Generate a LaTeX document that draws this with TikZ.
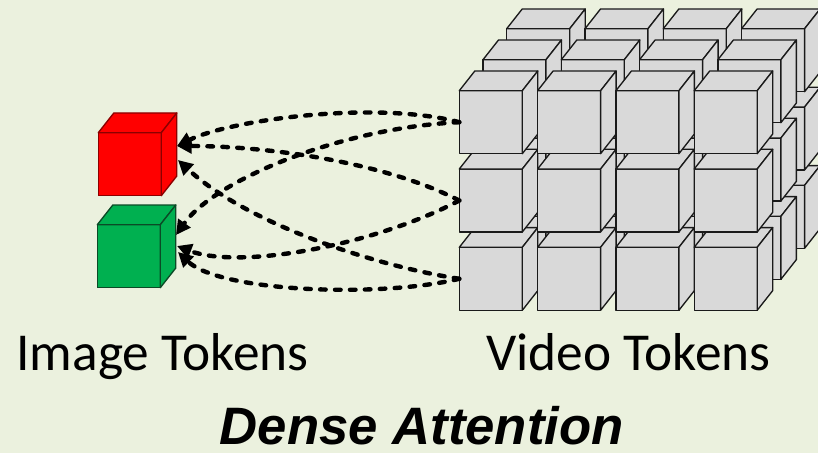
\documentclass[tikz,border=0pt]{standalone}
\usepackage{fontspec}
\setmainfont{Carlito}
\newfontfamily\titlefont{Liberation Sans}
\usetikzlibrary{arrows.meta}

\definecolor{bgolive}{HTML}{EBF1DE}
\definecolor{tokgray}{HTML}{D9D9D9}
\definecolor{tokgrayline}{HTML}{1A1A1A}
\definecolor{tokred}{HTML}{FF0000}
\definecolor{tokredline}{HTML}{8B0000}
\definecolor{tokgreen}{HTML}{00B050}
\definecolor{tokgreenline}{HTML}{0B4A26}

\tikzset{
  cubefront/.style={rectangle, minimum size=47.25pt, inner sep=0pt, outer sep=0pt,
    line width=1pt, line join=round},
  cubeside/.style={line width=1pt, line join=round},
  attn/.style={line width=3.3pt, dash pattern=on 4.2pt off 7pt, line cap=round,
    -{Triangle[length=11pt,width=11pt]}},
  tokenlabel/.style={font=\fontsize{40}{48}\selectfont, anchor=base, inner sep=0pt},
  headline/.style={font=\titlefont\bfseries\itshape\fontsize{39.5}{47}\selectfont,
    anchor=base, inner sep=0pt},
}

% one token cube: name, centre of the front face, fill, outline
\newcommand\tokencube[4]{%
  \node[cubefront, fill=#3, draw=#4] (#1) at (#2) {};
  \filldraw[cubeside, fill=#3, draw=#4] (#1.north west) -- ++(15.5,-19.7)
    -- ++(63,0) -- (#1.north east) -- cycle;
  \filldraw[cubeside, fill=#3, draw=#4] (#1.north east) -- ++(15.5,-19.7)
    -- ++(0,63) -- (#1.south east) -- cycle;
}

\begin{document}
\begin{tikzpicture}[x=0.75pt, y=-0.75pt]
\path[use as bounding box, fill=bgolive] (0,0) rectangle (818,453);
\clip (0,0) rectangle (818,453);

% video tokens: 3 layers x 3 rows x 4 columns, painted back to front
\foreach \k in {2,1,0}{
  \foreach \j in {2,1,0}{
    \foreach \i in {0,...,3}{
      \pgfmathsetmacro\cx{490.8+78.3*\i+23.7*\k}
      \pgfmathsetmacro\cy{122.2+78.3*\j-31*\k}
      \tokencube{v-\k-\j-\i}{\cx,\cy}{tokgray}{tokgrayline}
    }
  }
}

% image tokens
\tokencube{img-red}{129.8,164.2}{tokred}{tokredline}
\tokencube{img-green}{128.8,256.2}{tokgreen}{tokgreenline}

% arrow targets on the image cubes
\coordinate (red-a) at ([shift={(15.7,-18.2)}]img-red.east);
\coordinate (red-b) at ([shift={(16.7,-4.2)}]img-red.east);
\coordinate (green-c) at ([shift={(15.7,-21.2)}]img-green.east);
\coordinate (green-d) at ([shift={(16.7,-10.2)}]img-green.east);
\coordinate (green-e) at ([shift={(17.7,-4.2)}]img-green.east);

% dense attention links
\draw[attn] (v-0-0-0.west) .. controls +(-84.3,-22.2) and +(53,-26) .. (red-a);
\draw[attn] (v-0-0-0.west) .. controls +(-119.3,5.8) and +(39,-55) .. (green-c);
\draw[attn] (v-0-1-0.west) .. controls +(-79.3,-40.5) and +(83,0) .. (red-a);
\draw[attn] (v-0-1-0.west) .. controls +(-84.3,44.5) and +(63,24) .. (green-d);
\draw[attn] (v-0-2-0.west) .. controls +(-89.3,-13.8) and +(67,62) .. (red-b);
\draw[attn] (v-0-2-0.west) .. controls +(-79.3,19.2) and +(42,40) .. (green-e);

% captions
\node[tokenlabel] (img-label) at (162.5,370) {Image Tokens};
\node[tokenlabel] (vid-label) at (628.6,370) {Video Tokens};
\node[headline] (title) at (421.7,444) {Dense Attention};
\end{tikzpicture}
\end{document}
